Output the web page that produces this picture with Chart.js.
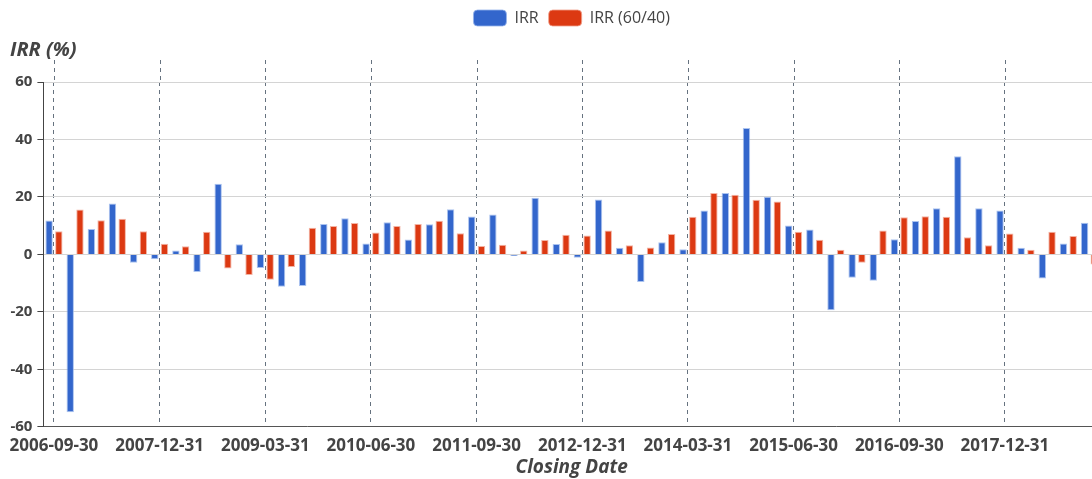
<!DOCTYPE html>
<html>
<head>
<meta charset="utf-8">
<script src="https://cdn.jsdelivr.net/npm/chart.js"></script>
<style>
    html, body { margin: 0; padding: 0; background: #fff; overflow: hidden; }
    #wrap { width: 1120px; height: 479px; position: relative; }
</style>
</head>
<body>
<div id="wrap"><canvas id="chart-irr"></canvas></div>
<script>
const datas = [
    '2006-09-30', '2006-12-31',
    '2007-03-31', '2007-06-30', '2007-09-30', '2007-12-31',
    '2008-03-31', '2008-06-30', '2008-09-30', '2008-12-31',
    '2009-03-31', '2009-06-30', '2009-09-30', '2009-12-31',
    '2010-03-31', '2010-06-30', '2010-09-30', '2010-12-31',
    '2011-03-31', '2011-06-30', '2011-09-30', '2011-12-31',
    '2012-03-31', '2012-06-30', '2012-09-30', '2012-12-31',
    '2013-03-31', '2013-06-30', '2013-09-30', '2013-12-31',
    '2014-03-31', '2014-06-30', '2014-09-30', '2014-12-31',
    '2015-03-31', '2015-06-30', '2015-09-30', '2015-12-31',
    '2016-03-31', '2016-06-30', '2016-09-30', '2016-12-31',
    '2017-03-31', '2017-06-30', '2017-09-30', '2017-12-31',
    '2018-03-31', '2018-06-30', '2018-09-30', '2018-12-31'
];

const irr = [
    11.8, -54.9, 8.8, 17.7, -2.9, -1.7, 1.4, -6.1, 24.6, 3.5,
    -4.7, -11.3, -11.0, 10.6, 12.6, 3.8, 11.2, 5.2, 10.5, 15.7,
    13.2, 13.9, -0.6, 19.7, 3.6, -1.2, 19.1, 2.3, -9.6, 4.2,
    1.8, 15.3, 21.4, 44.0, 20.1, 10.1, 8.7, -19.4, -8.1, -9.2,
    5.3, 11.6, 16.1, 34.2, 16.1, 15.3, 2.3, -8.4, 3.8, 11.0
];

const irr6040 = [
    8.1, 15.6, 11.9, 12.4, 8.1, 3.7, 2.8, 7.9, -4.9, -7.2,
    -8.8, -4.4, 9.3, 9.9, 10.9, 7.6, 9.9, 10.6, 11.7, 7.4,
    2.9, 3.4, 1.4, 5.0, 6.8, 6.6, 8.3, 3.2, 2.4, 7.1,
    13.1, 21.4, 20.8, 19.0, 18.4, 7.9, 5.1, 1.6, -2.9, 8.3,
    12.9, 13.3, 13.1, 6.0, 3.2, 7.3, 1.6, 7.9, 6.4, -3.5
];

const yTicks = [-60, -40, -20, 0, 20, 40, 60];
const passoRotulo = 5; // a date label every 5 quarters

const corTexto = '#444';
const corTracejado = '#66727f';

// the dashed date lines go a little above the 60 line in the original
const linhasTopo = {
    id: 'linhasTopo',
    beforeDatasetsDraw(chart) {
        const x = chart.scales.x;
        const area = chart.chartArea;
        const ctx = chart.ctx;
        ctx.save();
        ctx.strokeStyle = corTracejado;
        ctx.lineWidth = 1;
        ctx.setLineDash([4, 4]);
        datas.forEach((d, i) => {
            if (i % passoRotulo !== 0) return;
            const px = Math.round(x.getPixelForValue(i)) + 0.5;
            ctx.beginPath();
            ctx.moveTo(px, area.top - 22);
            ctx.lineTo(px, area.top);
            ctx.stroke();
        });
        ctx.restore();
    }
};

Chart.defaults.font.family = "'Open Sans', sans-serif";
Chart.defaults.color = corTexto;

new Chart(document.getElementById('chart-irr').getContext('2d'), {
    type: 'bar',
    data: {
        labels: datas,
        datasets: [
            {
                label: 'IRR',
                data: irr,
                backgroundColor: '#3366cc',
                borderColor: 'rgba(150, 180, 235, 0.8)',
                borderWidth: 1,
                categoryPercentage: 0.92,
                barPercentage: 0.76
            },
            {
                label: 'IRR (60/40)',
                data: irr6040,
                backgroundColor: '#dc3912',
                borderColor: 'rgba(240, 160, 140, 0.8)',
                borderWidth: 1,
                categoryPercentage: 0.92,
                barPercentage: 0.76
            }
        ]
    },
    options: {
        responsive: true,
        maintainAspectRatio: false,
        animation: false,
        layout: { padding: { left: 10, right: 20, top: 0, bottom: 0 } },
        plugins: {
            tooltip: { enabled: false },
            legend: {
                position: 'top',
                fullSize: false,
                labels: {
                    boxWidth: 33,
                    boxHeight: 16,
                    useBorderRadius: true,
                    borderRadius: 4,
                    padding: 10,
                    color: corTexto,
                    font: { size: 16 }
                }
            },
            title: {
                display: true,
                text: 'IRR (%)',
                align: 'start',
                position: 'top',
                weight: 500,
                color: corTexto,
                font: { size: 20, style: 'italic', weight: 'bold' },
                padding: { top: 2, bottom: 20 }
            }
        },
        scales: {
            x: {
                offset: true,
                grid: {
                    offset: false,
                    drawTicks: false,
                    lineWidth: 1,
                    color: (ctx) => (ctx.index % passoRotulo === 0 ? corTracejado : 'rgba(0,0,0,0)')
                },
                border: { color: '#555', width: 1, dash: [4, 4] },
                ticks: {
                    autoSkip: false,
                    maxRotation: 0,
                    minRotation: 0,
                    padding: 9,
                    color: corTexto,
                    font: { size: 17, weight: 'bold' },
                    callback: (val, i) => (i % passoRotulo === 0 ? datas[i] : '')
                },
                title: {
                    display: true,
                    text: 'Closing Date',
                    color: corTexto,
                    font: { size: 19, style: 'italic', weight: 'bold' },
                    padding: { top: -9, bottom: 0 }
                }
            },
            y: {
                min: -60,
                max: 60,
                afterBuildTicks: (scale) => {
                    scale.ticks = yTicks.map(v => ({ value: v }));
                },
                afterFit: (scale) => {
                    scale.width = 33.4;
                },
                grid: {
                    color: '#d4d4d4',
                    tickColor: '#444',
                    tickLength: 6
                },
                border: { color: '#444', width: 1 },
                ticks: {
                    padding: 5,
                    color: corTexto,
                    font: { size: 15, weight: 'bold' }
                }
            }
        }
    },
    plugins: [linhasTopo]
});
</script>
</body>
</html>
